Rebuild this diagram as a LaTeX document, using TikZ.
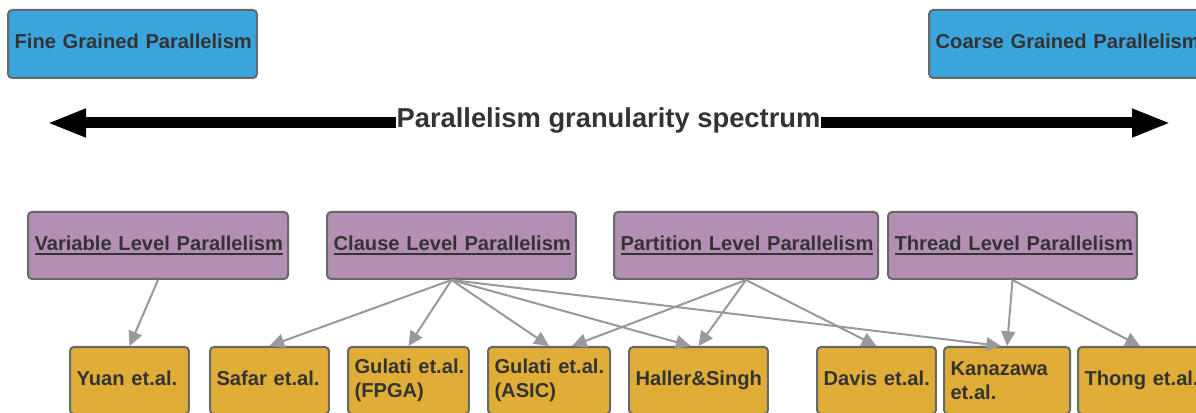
\documentclass[tikz,border=0pt]{standalone}
\usepackage{fontspec}
\setmainfont{Liberation Sans}
\usetikzlibrary{arrows.meta,calc}

\definecolor{grainblue}{RGB}{58,165,221}
\definecolor{levelpurple}{RGB}{178,143,179}
\definecolor{workorange}{RGB}{224,174,54}
\definecolor{boxline}{RGB}{104,104,104}
\definecolor{linkgray}{RGB}{153,153,153}
\definecolor{txtgray}{RGB}{51,51,51}

% thick underline for the level names
\newcommand{\lvlul}[1]{\setbox0=\hbox{#1}\leavevmode\rlap{\rule[-3.4pt]{\wd0}{1.4pt}}\box0}

\begin{document}
\begin{tikzpicture}[x=0.75pt,y=0.75pt,yscale=-1,xscale=1,
  box/.style={draw=boxline,line width=1.5pt,rounded corners=3pt,text=txtgray,align=left,
    inner xsep=4.9pt,inner ysep=0pt,font=\bfseries\fontsize{15.1}{18}\selectfont},
  grainbox/.style={box,fill=grainblue,minimum height=51pt,text depth=4.5pt},
  levelbox/.style={box,fill=levelpurple,minimum height=50.25pt},
  workbox/.style={box,fill=workorange,minimum height=50.25pt,text depth=3.75pt},
  worktwobox/.style={box,fill=workorange,minimum height=50.25pt},
  link/.style={draw=linkgray,line width=1.5pt,-{Triangle[length=11pt,width=10.5pt]}},
  spectrum/.style={line width=8.25pt,-{Triangle[length=29.25pt,width=19.5pt]}}]
\useasboundingbox (0,0) rectangle (1196,413);

% granularity ends
\node[grainbox,text width=176.8pt] (fine) at (132.5,44) {\mbox{Fine Grained Parallelism}};
\node[grainbox,text width=197pt] (coarse) at (1067,44) {\mbox{Coarse Grained Parallelism}};

% spectrum arrow
\node[inner sep=0pt,anchor=base,text=txtgray,font=\bfseries\fontsize{20.5}{24}\selectfont] (spec) at (608.5,128) {Parallelism granularity spectrum};
\coordinate (fine end) at (47,123);
\coordinate (coarse end) at (1171,123);
\draw[spectrum] (spec.west |- fine end) -- (fine end);
\draw[spectrum] (spec.east |- coarse end) -- (coarse end);

% levels
\node[levelbox,text width=185.2pt] (variable) at (158,245.5) {\lvlul{Variable Level Parallelism}};
\node[levelbox,text width=176.8pt] (clause) at (451.5,245.5) {\lvlul{Clause Level Parallelism}};
\node[levelbox,text width=188.2pt] (partition) at (746,245.5) {\lvlul{Partition Level Parallelism}};
\node[levelbox,text width=176.8pt] (thread) at (1012.5,245.5) {\lvlul{Thread Level Parallelism}};

% works
\node[workbox,text width=79.4pt] (yuan) at (129.5,380.5) {\mbox{Yuan et.al.}};
\node[workbox,text width=79.4pt] (safar) at (269.5,380.5) {\mbox{Safar et.al.}};
\node[worktwobox,text width=80.9pt] (fpga) at (408.5,380.5) {\mbox{Gulati et.al.}\\(FPGA)};
\node[worktwobox,text width=81.7pt] (asic) at (549,380.5) {\mbox{Gulati et.al.}\\(ASIC)};
\node[workbox,text width=94.4pt] (haller) at (698.5,380.5) {\mbox{Haller\&Singh}};
\node[workbox,text width=79.4pt] (davis) at (876.5,380.5) {\mbox{Davis et.al.}};
\node[worktwobox,text width=84.7pt] (kanazawa) at (1007,380.5) {Kanazawa\\et.al.};
\node[workbox,text width=83.2pt] (thong) at (1140,380.5) {\mbox{Thong et.al.}};

\draw[link] (variable.south) -- (yuan.north);
\draw[link] (clause.south) -- (safar.north);
\draw[link] (clause.south) -- (fpga.north);
\draw[link] (clause.south) -- (asic.north);
\draw[link] (clause.south) -- ($(haller.north)+(-8,0)$);
\draw[link] (clause.south) -- ($(kanazawa.north)+(-6,0)$);
\draw[link] (partition.south) -- ($(asic.north)+(23,0)$);
\draw[link] (partition.south) -- (haller.north);
\draw[link] (partition.south) -- (davis.north);
\draw[link] (thread.south) -- (kanazawa.north);
\draw[link] (thread.south) -- (thong.north);

\end{tikzpicture}
\end{document}
